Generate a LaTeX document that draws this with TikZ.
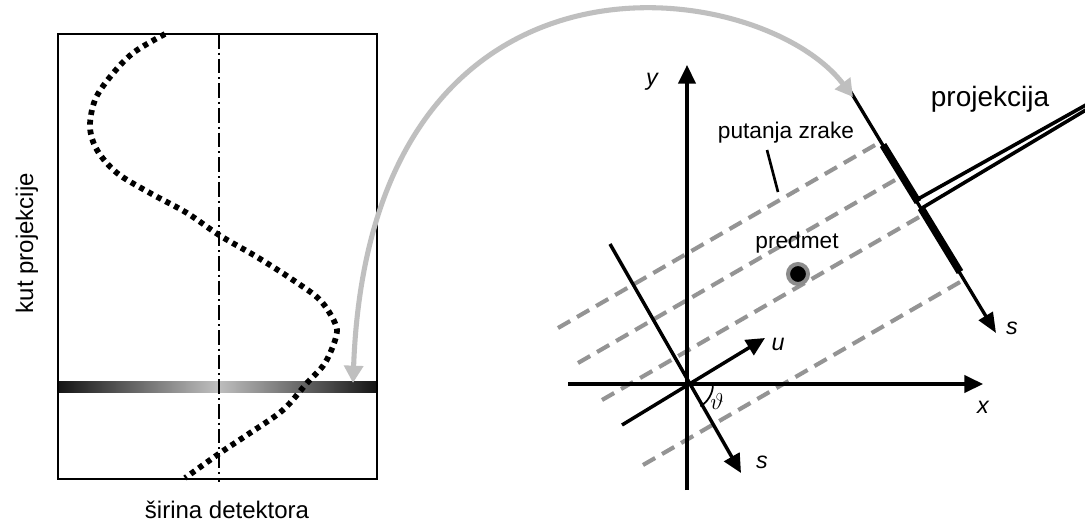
\documentclass[tikz,border=0pt]{standalone}
\usepackage{fontspec}
\setmainfont{Liberation Sans}
\usetikzlibrary{arrows.meta}
\begin{document}
\begin{tikzpicture}[x=0.75pt,y=-0.75pt,
  axis/.style={line width=2.6pt,-{Triangle[length=14pt,width=13pt]}},
  raypath/.style={line width=3.1pt,draw=black!42,dash pattern=on 10.5pt off 6pt},
  detthin/.style={line width=2.5pt},
  detthick/.style={line width=5.6pt},
  spike/.style={line width=2.7pt,line join=miter},
  grayarrow/.style={line width=3.8pt,draw=black!25,
     {Triangle[length=13pt,width=14pt,fill=black!25]}-{Triangle[length=13pt,width=14pt,fill=black!25]}},
  sinedots/.style={line width=4.3pt,dash pattern=on 3.8pt off 3.6pt},
  centerline/.style={line width=1.4pt,dash pattern=on 11pt off 3pt on 1.5pt off 3pt},
  frame/.style={line width=1.9pt},
  bigtxt/.style={font=\fontsize{18}{21}\selectfont,inner sep=0pt},
  midtxt/.style={font=\fontsize{17}{20}\selectfont,inner sep=0pt},
  axtxt/.style={font=\fontsize{17.5}{20}\selectfont\itshape,inner sep=0pt},
  leader/.style={line width=2pt}
]
\clip (0,0) rectangle (1085,531);
\fill[white] (0,0) rectangle (1085,531);

% ---------- left panel ----------
\shade[left color=black!92,right color=black!92,middle color=black!25] (58,381) rectangle (377,392);
\draw[frame] (58,34) rectangle (377,479);
\coordinate (ctop) at (219,34);
\coordinate (cbot) at (219,482);
\draw[centerline] (ctop) -- (cbot);
\draw[sinedots] plot[smooth,tension=0.55] coordinates {
 (165,34) (133,53) (110,77) (95,100) (90,127) (97,150) (117,173) (150,193)
 (187,213) (219,235) (257,257) (293,280) (320,300) (335,323) (336,337)
 (325,363) (307,383) (283,410) (250,433) (220,453) (185,478)};
\node[bigtxt,rotate=90] (kut) at (27,243) {kut projekcije};
\node[bigtxt] (sir) at (227,510) {širina detektora};

% ---------- right panel ----------
\coordinate (O) at (687,384);
\coordinate (xL) at (568,384);
\coordinate (xR) at (983,384);
\coordinate (yB) at (687,490);
\coordinate (yT) at (687,65);
\coordinate (uB) at (622,425);
\coordinate (uT) at (765,338);
\coordinate (sB) at (610,244);
\coordinate (sT) at (741,473);

% rays
\coordinate (r1a) at (558,328); \coordinate (r1b) at (880.7,141.8);
\coordinate (r2a) at (578,363); \coordinate (r2b) at (901.5,176.3);
\coordinate (r3a) at (602,400); \coordinate (r3b) at (924.2,214.1);
\coordinate (r4a) at (643,465); \coordinate (r4b) at (963.7,279.9);
\draw[raypath] (r1a) -- (r1b);
\draw[raypath] (r2a) -- (r2b);
\draw[raypath] (r3a) -- (r3b);
\draw[raypath] (r4a) -- (r4b);

% axes
\draw[axis] (xL) -- (xR);
\draw[axis] (yB) -- (yT);
\draw[axis] (uB) -- (uT);
\draw[axis] (sB) -- (sT);
\draw[line width=1.3pt] (713,384) arc[start angle=0,end angle=59,radius=26];

% detector
\coordinate (D1) at (849,89);
\coordinate (D2) at (996,333);
\draw[detthin,-{Triangle[length=15pt,width=12pt]}] (D1) -- (D2);
\coordinate (k1) at (883,145); \coordinate (k2) at (918,202);
\coordinate (k3) at (921,208); \coordinate (k4) at (960,272);
\draw[detthick] (k1) -- (k2);
\draw[detthick] (k3) -- (k4);
\coordinate (pa) at (918,199);
\coordinate (ptip) at (1218,31);
\coordinate (pb) at (922,208);
\draw[spike] (pa) -- (ptip) -- (pb);

% object
\node[circle,fill=black,draw=black!45,line width=3pt,minimum size=15pt,inner sep=0pt] (obj) at (798,274) {};

% labels
\node[axtxt] (ylab) at (652,82) {y};
\node[axtxt] (xlab) at (983,407) {x};
\node[axtxt] (ulab) at (778,344) {u};
\node[axtxt] (slab) at (762,462) {s};
\node[axtxt] (slab2) at (1012,328) {s};
\node[font=\fontsize{17}{19}\selectfont,inner sep=0pt] (th) at (717,401) {$\vartheta$};
\node[font=\fontsize{21}{24}\selectfont,inner sep=0pt] (proj) at (990,99) {projekcija};
\node[midtxt] (put) at (786,133) {putanja zrake};
\node[midtxt] (pred) at (797,243) {predmet};
\coordinate (la) at (767,150);
\coordinate (lb) at (778,192);
\draw[leader] (la) -- (lb);

% gray double arrow
\coordinate (A1) at (353,383);
\coordinate (A2) at (853,97);
\draw[grayarrow] (A1) .. controls (370,-80) and (760,-25) .. (A2);
\end{tikzpicture}
\end{document}
